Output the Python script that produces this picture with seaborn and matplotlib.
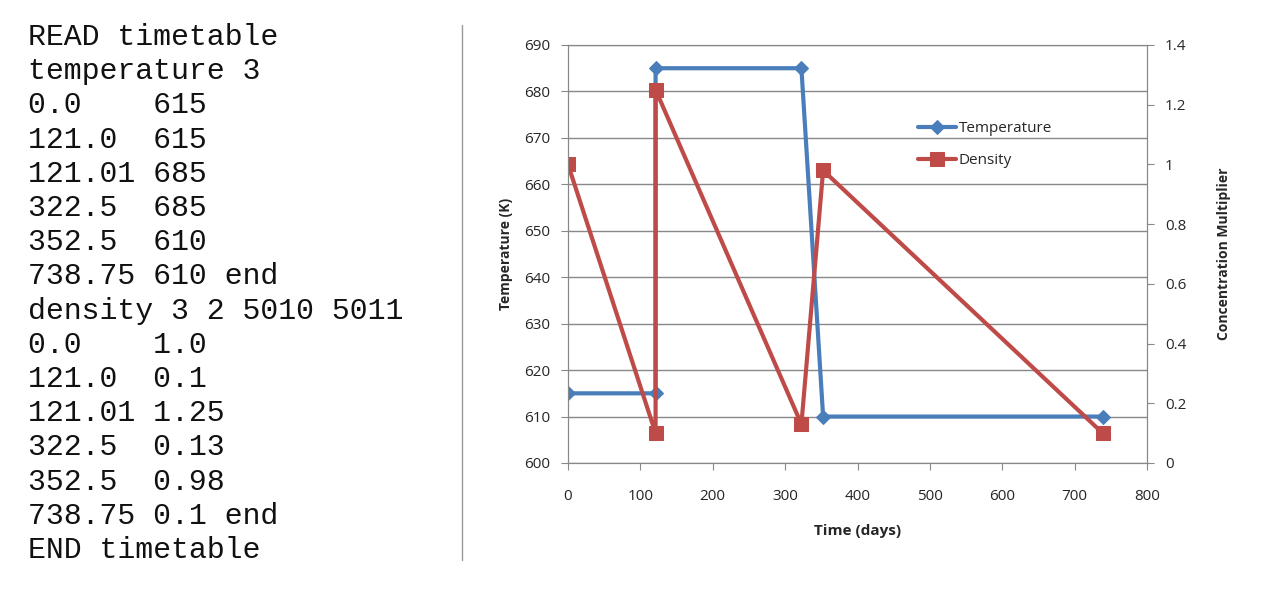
import seaborn as sns
import matplotlib.pyplot as plt
import pandas as pd

time_temp = [0.0, 121.0, 121.01, 322.5, 352.5, 738.75]
temperature = [615, 615, 685, 685, 610, 610]
time_dens = [0.0, 121.0, 121.01, 322.5, 352.5, 738.75]
density = [1.0, 0.1, 1.25, 0.13, 0.98, 0.1]

text_lines = [
    "READ timetable", "temperature 3",
    "0.0    615", "121.0  615", "121.01 685", "322.5  685", "352.5  610",
    "738.75 610 end", "density 3 2 5010 5011",
    "0.0    1.0", "121.0  0.1", "121.01 1.25", "322.5  0.13", "352.5  0.98",
    "738.75 0.1 end", "END timetable",
]

sns.set_style("white")
plt.rcParams["font.family"] = ["Open Sans", "DejaVu Sans"]

fig = plt.figure(figsize=(12.8, 5.96), dpi=100)
for i, line in enumerate(text_lines):
    fig.text(28 / 1280, 1 - (37 + i * 34.2) / 596, line, family="Liberation Mono",
             fontsize=21.5, va="center", ha="left", color="#111111")

# left border of the chart area
fig.add_artist(plt.Line2D([462 / 1280, 462 / 1280], [1 - 25 / 596, 1 - 560 / 596], color="#999999", lw=1))

ax = fig.add_axes([568 / 1280, 1 - 463 / 596, (1147 - 568) / 1280, (463 - 45) / 596])
ax2 = ax.twinx()

blue = "#4a7ebb"
red = "#be4b48"
dft = pd.DataFrame({"t": time_temp, "v": temperature})
dfd = pd.DataFrame({"t": time_dens, "v": density})
sns.lineplot(data=dft, x="t", y="v", ax=ax, color=blue, lw=3, marker="D", markersize=7,
             markeredgecolor=blue, sort=False, label="Temperature", legend=False)
sns.lineplot(data=dfd, x="t", y="v", ax=ax2, color=red, lw=3, marker="s", markersize=10,
             markeredgecolor=red, sort=False, label="Density", legend=False)

ax.set_xlim(0, 800)
ax.set_ylim(600, 690)
ax.set_yticks(range(600, 691, 10))
ax.set_xticks(range(0, 801, 100))
ax2.set_ylim(0, 1.4)
ax2.set_yticks([0, 0.2, 0.4, 0.6, 0.8, 1, 1.2, 1.4])
ax2.set_yticklabels(["0", "0.2", "0.4", "0.6", "0.8", "1", "1.2", "1.4"])
ax.grid(axis="y", color="#888888", lw=1)
ax.grid(axis="x", visible=False)
for a in (ax, ax2):
    for s in a.spines.values():
        s.set_color("#888888")
    a.tick_params(labelsize=11, length=5, color="#888888", pad=8)
ax.tick_params(axis="both", direction="out", left=True, bottom=True)
ax.tick_params(axis="x", pad=14)
ax2.tick_params(axis="y", direction="out", right=True)
ax.set_xlabel("Time (days)", fontsize=11, fontweight="bold", labelpad=14)
ax.set_ylabel("Temperature (K)", fontsize=10, fontweight="bold", labelpad=8)
ax2.set_ylabel("Concentration Multiplier", fontsize=10, fontweight="bold", labelpad=22)

h1, l1 = ax.get_legend_handles_labels()
h2, l2 = ax2.get_legend_handles_labels()
ax.legend(h1 + h2, l1 + l2, loc="upper left", bbox_to_anchor=(0.58, 0.85), frameon=False,
          fontsize=11, handlelength=2.5, labelspacing=1.1, handletextpad=0.2)

fig.savefig("out.png", dpi=100)
